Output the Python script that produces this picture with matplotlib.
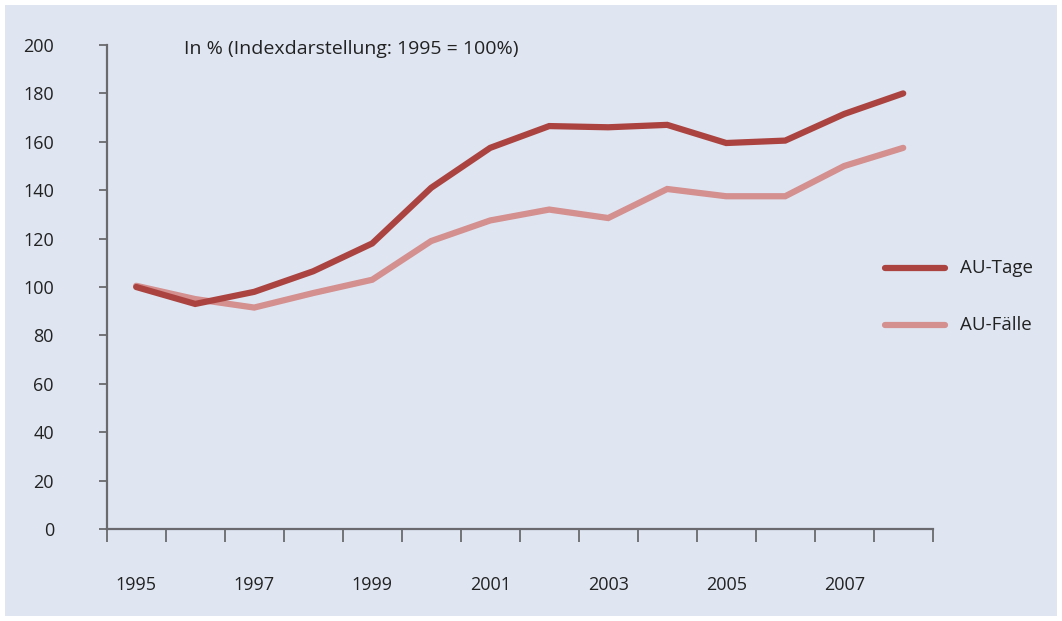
import numpy as np
import matplotlib.pyplot as plt
from matplotlib.patches import Rectangle

years = [1995, 1996, 1997, 1998, 1999, 2000, 2001, 2002, 2003, 2004, 2005, 2006, 2007, 2008]
au_tage = [100, 93, 98, 106.5, 118, 141, 157.5, 166.5, 166, 167, 159.5, 160.5, 171.5, 180]
au_faelle = [100.5, 95, 91.5, 97.5, 103, 119, 127.5, 132, 128.5, 140.5, 137.5, 137.5, 150, 157.5]
tick_years = [1995, 1997, 1999, 2001, 2003, 2005, 2007]
title = "In % (Indexdarstellung: 1995 = 100%)"

bg = '#dfe6f2'
c_tage = '#ab4440'
c_faelle = '#d48f8f'
axis_col = '#6a6a6e'
plt.rcParams['font.family'] = ['Open Sans', 'DejaVu Sans']

fig = plt.figure(figsize=(10.62, 6.21), dpi=100)
fig.patch.set_facecolor('white')
fig.patches.append(Rectangle((5/1062, 5/621), 1052/1062, 611/621, transform=fig.transFigure,
                             facecolor=bg, edgecolor='none', zorder=-5))

# pixel coordinates measured from top-left
def px(xp, yp):
    return fig.transFigure.inverted().transform((xp, 621-yp))

ax = fig.add_axes([106.7/1062, 1-529/621, 826/1062, 484/621])
ax.set_zorder(2)
ax.set_facecolor('none')
x = np.arange(len(years))
ax.plot(x, au_faelle, color=c_faelle, lw=4.5, solid_capstyle='round', solid_joinstyle='miter', label='AU-Fälle')
ax.plot(x, au_tage, color=c_tage, lw=4.5, solid_capstyle='round', solid_joinstyle='miter', label='AU-Tage')

ax.set_xlim(-0.5, len(years)-0.5)
ax.set_ylim(0, 200)
ax.set_yticks(np.arange(0, 201, 20))
ax.set_xticks([years.index(t) for t in tick_years])
ax.set_xticklabels([str(t) for t in tick_years])
ax.set_xticks(np.arange(-0.5, len(years), 1), minor=True)
ax.tick_params(axis='x', which='major', length=0, pad=34, labelsize=13, labelcolor='#222222')
ax.tick_params(axis='x', which='minor', length=9, width=1.3, color=axis_col, direction='out')
ax.tick_params(axis='y', length=6, width=1.3, color=axis_col, pad=32, labelsize=13, labelcolor='#222222')
for s in ['top', 'right']:
    ax.spines[s].set_visible(False)
for s in ['left', 'bottom']:
    ax.spines[s].set_color(axis_col)
    ax.spines[s].set_linewidth(1.6)

t = px(184, 49)
fig.text(t[0], t[1], title, fontsize=14, color='#222222', va='center')

# legend drawn manually
for (name, col, yp) in [('AU-Tage', c_tage, 268), ('AU-Fälle', c_faelle, 325)]:
    p0 = px(885, yp); p1 = px(945, yp)
    fig.add_artist(plt.Line2D([p0[0], p1[0]], [p0[1], p1[1]], transform=fig.transFigure,
                              color=col, lw=4.5, solid_capstyle='round'))
    t = px(960, yp)
    fig.text(t[0], t[1], name, fontsize=13.5, color='#222222', va='center')

fig.savefig('out.png', dpi=100, facecolor='white')
